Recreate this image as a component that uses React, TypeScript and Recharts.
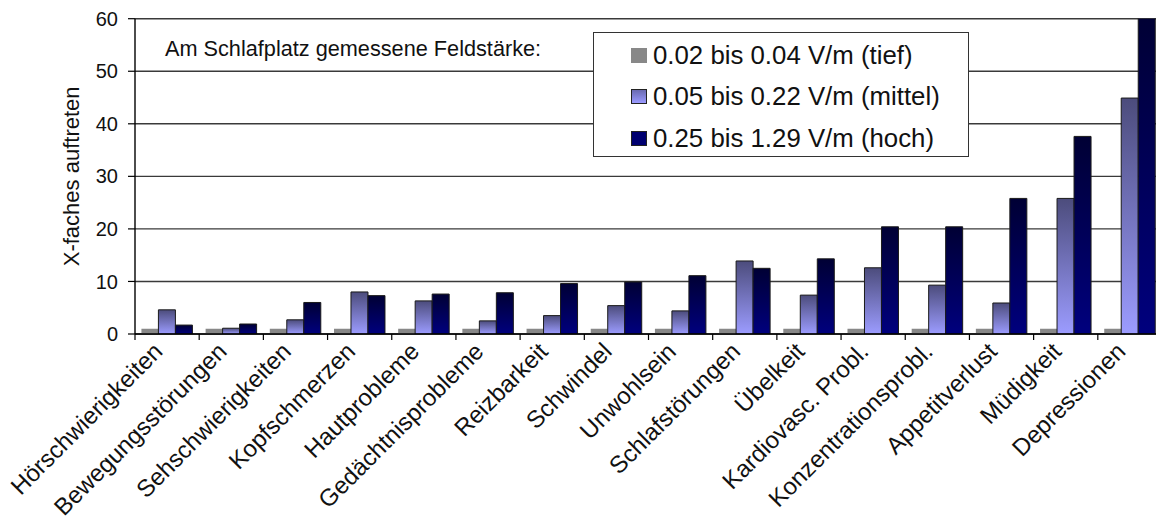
import React from "react"
import { Bar, BarChart, XAxis, YAxis, CartesianGrid, Legend } from "recharts"

const categories = [
  "Hörschwierigkeiten",
  "Bewegungsstörungen",
  "Sehschwierigkeiten",
  "Kopfschmerzen",
  "Hautprobleme",
  "Gedächtnisprobleme",
  "Reizbarkeit",
  "Schwindel",
  "Unwohlsein",
  "Schlafstörungen",
  "Übelkeit",
  "Kardiovasc. Probl.",
  "Konzentrationsprobl.",
  "Appetitverlust",
  "Müdigkeit",
  "Depressionen",
]

const tief = [1, 1, 1, 1, 1, 1, 1, 1, 1, 1, 1, 1, 1, 1, 1, 1]
const mittel = [4.6, 1.1, 2.7, 8.0, 6.3, 2.5, 3.5, 5.4, 4.4, 13.9, 7.4, 12.6, 9.3, 5.9, 25.8, 44.9]
const hoch = [1.7, 1.9, 6.0, 7.3, 7.6, 7.85, 9.6, 9.9, 11.1, 12.5, 14.3, 20.4, 20.4, 25.8, 37.6, 60.5]

const seriesNames = ["0.02 bis 0.04 V/m (tief)", "0.05 bis 0.22 V/m (mittel)", "0.25 bis 1.29 V/m (hoch)"]
const yTicks = [0, 10, 20, 30, 40, 50, 60]

const data = categories.map((name, i) => ({
  name,
  tief: tief[i],
  mittel: mittel[i],
  hoch: hoch[i],
}))

const FONT = '"Liberation Sans", Arial, sans-serif'
const CHART_W = 1170
const CHART_H = 520
const Y_AXIS_W = 135
const RIGHT = 8
const bandWidth = (CHART_W - Y_AXIS_W - RIGHT) / categories.length

function XTick(props: any) {
  const { x, y, payload } = props
  const bx = x - bandWidth / 2
  const tx = x - 9
  const ty = y + 13
  return (
    <g>
      <line x1={bx} y1={y} x2={bx} y2={y + 6} stroke="#000" strokeWidth={1.2} />
      <text
        x={tx}
        y={ty}
        transform={`rotate(-45, ${tx}, ${ty})`}
        textAnchor="end"
        dy="0.35em"
        fontSize={24}
        fontFamily={FONT}
        fill="#111"
      >
        {payload.value}
      </text>
    </g>
  )
}

function YLabel(props: any) {
  const { viewBox } = props
  const cx = 72
  const cy = viewBox.y + viewBox.height / 2
  return (
    <text
      x={cx}
      y={cy}
      transform={`rotate(-90, ${cx}, ${cy})`}
      textAnchor="middle"
      dominantBaseline="central"
      fontSize={22}
      fontFamily={FONT}
      fill="#111"
    >
      X-faches auftreten
    </text>
  )
}

const markerStyles = [
  { background: "#888888" },
  { background: "linear-gradient(#6a6ab0, #9a9aff)", border: "1px solid #222" },
  { background: "#000070", border: "1px solid #222" },
]

function LegendBox() {
  return (
    <div
      style={{
        width: 376,
        height: 125,
        boxSizing: "border-box",
        border: "1.5px solid #333",
        background: "#fff",
        paddingTop: 2,
        fontFamily: FONT,
      }}
    >
      {seriesNames.map((n, i) => (
        <div key={n} style={{ height: 41.5, display: "flex", alignItems: "center", paddingLeft: 37 }}>
          <span style={{ width: 16, height: 15, boxSizing: "border-box", marginRight: 6, ...markerStyles[i] }} />
          <span style={{ fontSize: 25.8, color: "#111", lineHeight: 1, whiteSpace: "nowrap" }}>{n}</span>
        </div>
      ))}
    </div>
  )
}

export default function App() {
  return (
    <div
      style={{
        position: "absolute",
        left: 0,
        top: 0,
        width: 1156,
        height: 520,
        overflow: "hidden",
        background: "#fff",
        fontFamily: FONT,
      }}
    >
      <BarChart
        width={CHART_W}
        height={CHART_H}
        data={data}
        margin={{ top: 18.7, right: RIGHT, left: 0, bottom: 0 }}
        barCategoryGap="10%"
        barGap={0}
      >
        <defs>
          <linearGradient id="gradMittel" x1="0" y1="0" x2="0" y2="1">
            <stop offset="0%" stopColor="#4c4c7c" />
            <stop offset="100%" stopColor="#9c9cff" />
          </linearGradient>
          <linearGradient id="gradHoch" x1="0" y1="0" x2="0" y2="1">
            <stop offset="0%" stopColor="#000034" />
            <stop offset="100%" stopColor="#00007e" />
          </linearGradient>
        </defs>
        <CartesianGrid vertical={false} stroke="#3a3a3a" strokeWidth={1.4} />
        <XAxis
          dataKey="name"
          interval={0}
          height={CHART_H - 334}
          tickLine={false}
          tickSize={0}
          tickMargin={0}
          axisLine={{ stroke: "#000", strokeWidth: 1.4 }}
          tick={<XTick />}
        />
        <YAxis
          width={Y_AXIS_W}
          domain={[0, 60]}
          ticks={yTicks}
          allowDataOverflow
          tickSize={7}
          tickMargin={10}
          axisLine={{ stroke: "#000", strokeWidth: 1.4 }}
          tickLine={{ stroke: "#000", strokeWidth: 1.2 }}
          tick={{ fontSize: 20, fill: "#111", fontFamily: FONT }}
          label={<YLabel />}
        />
        <Legend
          layout="vertical"
          align="center"
          verticalAlign="middle"
          content={() => <LegendBox />}
          wrapperStyle={{ left: 593, top: 31.7, width: 376, height: 125 }}
        />
        <Bar dataKey="tief" name={seriesNames[0]} fill="#888888" isAnimationActive={false} />
        <Bar dataKey="mittel" name={seriesNames[1]} fill="url(#gradMittel)" stroke="#1a1a1a" strokeWidth={1} isAnimationActive={false} />
        <Bar dataKey="hoch" name={seriesNames[2]} fill="url(#gradHoch)" stroke="#1a1a1a" strokeWidth={1} isAnimationActive={false} />
      </BarChart>
      <div
        style={{
          position: "absolute",
          left: 165,
          top: 38,
          fontSize: 21.7,
          lineHeight: 1,
          color: "#111",
          whiteSpace: "nowrap",
        }}
      >
        Am Schlafplatz gemessene Feldstärke:
      </div>
    </div>
  )
}
